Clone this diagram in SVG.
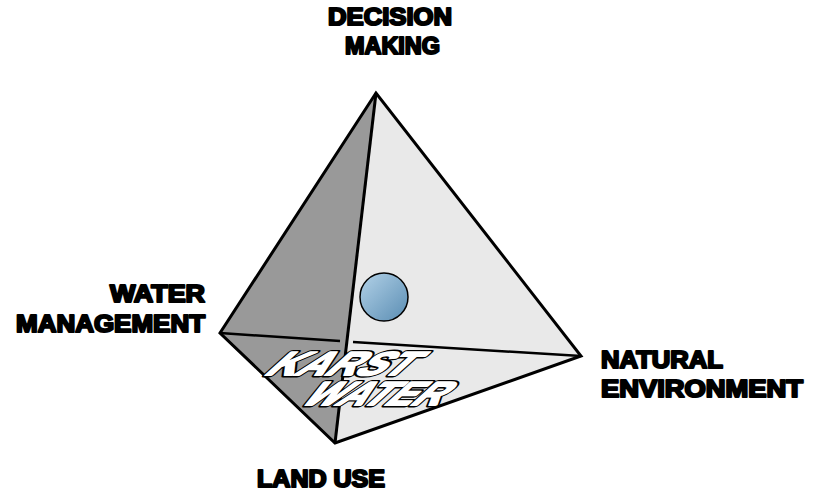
<svg xmlns="http://www.w3.org/2000/svg" width="813" height="491" viewBox="0 0 813 491">
  <style>
    .lbl { font-family: "Liberation Sans", Arial, sans-serif; font-weight: bold; font-size: 24px; fill: #000; stroke: #000; stroke-width: 2.1; stroke-linejoin: round; }
    .edge { fill: none; stroke: #000; stroke-width: 3; stroke-linejoin: miter; }
    .inner { fill: none; stroke: #000; stroke-width: 2.5; }
    .karst { font-family: "Liberation Sans", Arial, sans-serif; font-weight: bold; font-size: 33px; stroke-linejoin: round; }
    .k-out { fill: #000; stroke: #000; stroke-width: 4.8; }
    .k-in { fill: #fff; stroke: #fff; stroke-width: 2; }
  </style>
  <defs>
    <linearGradient id="ball" x1="0" y1="0" x2="1" y2="1">
      <stop offset="0" stop-color="#b3d2e8"/>
      <stop offset="1" stop-color="#5a8db3"/>
    </linearGradient>
  </defs>
  <rect width="813" height="491" fill="#fff"/>

  <g id="tetrahedron">
    <polygon points="376,93 220,333 335,443" fill="#999999"/>
    <polygon points="376,93 335,443 581,356" fill="#e9e9e9"/>
  </g>

  <g id="connectors">
    <line class="inner" x1="220" y1="333" x2="340" y2="341"/>
    <line class="inner" x1="353" y1="342" x2="581" y2="356"/>
    <line class="edge" x1="376" y1="93" x2="335" y2="443"/>
    <polygon class="edge" points="376,93 220,333 335,443 581,356"/>
  </g>

  <g id="ball-node">
    <circle cx="384" cy="297" r="24" fill="url(#ball)" stroke="#000" stroke-width="1.5"/>
  </g>

  <g id="karst-water">
    <text class="karst k-out" transform="translate(263,375) skewX(-48)" textLength="142" lengthAdjust="spacingAndGlyphs">KARST</text>
    <text class="karst k-out" transform="translate(299,405) skewX(-48)" textLength="138" lengthAdjust="spacingAndGlyphs">WATER</text>
    <text class="karst k-in" transform="translate(263,375) skewX(-48)" textLength="142" lengthAdjust="spacingAndGlyphs">KARST</text>
    <text class="karst k-in" transform="translate(299,405) skewX(-48)" textLength="138" lengthAdjust="spacingAndGlyphs">WATER</text>
  </g>

  <g id="decision-making">
    <text class="lbl" x="328" y="25" textLength="124" lengthAdjust="spacingAndGlyphs">DECISION</text>
    <text class="lbl" x="345" y="54" textLength="95" lengthAdjust="spacingAndGlyphs">MAKING</text>
  </g>

  <g id="water-management">
    <text class="lbl" x="110" y="302" textLength="95" lengthAdjust="spacingAndGlyphs">WATER</text>
    <text class="lbl" x="16" y="332" textLength="189" lengthAdjust="spacingAndGlyphs">MANAGEMENT</text>
  </g>

  <g id="natural-environment">
    <text class="lbl" x="601" y="368" textLength="122" lengthAdjust="spacingAndGlyphs">NATURAL</text>
    <text class="lbl" x="601" y="397" textLength="202" lengthAdjust="spacingAndGlyphs">ENVIRONMENT</text>
  </g>

  <g id="land-use">
    <text class="lbl" x="257" y="487" textLength="128" lengthAdjust="spacingAndGlyphs">LAND USE</text>
  </g>
</svg>
